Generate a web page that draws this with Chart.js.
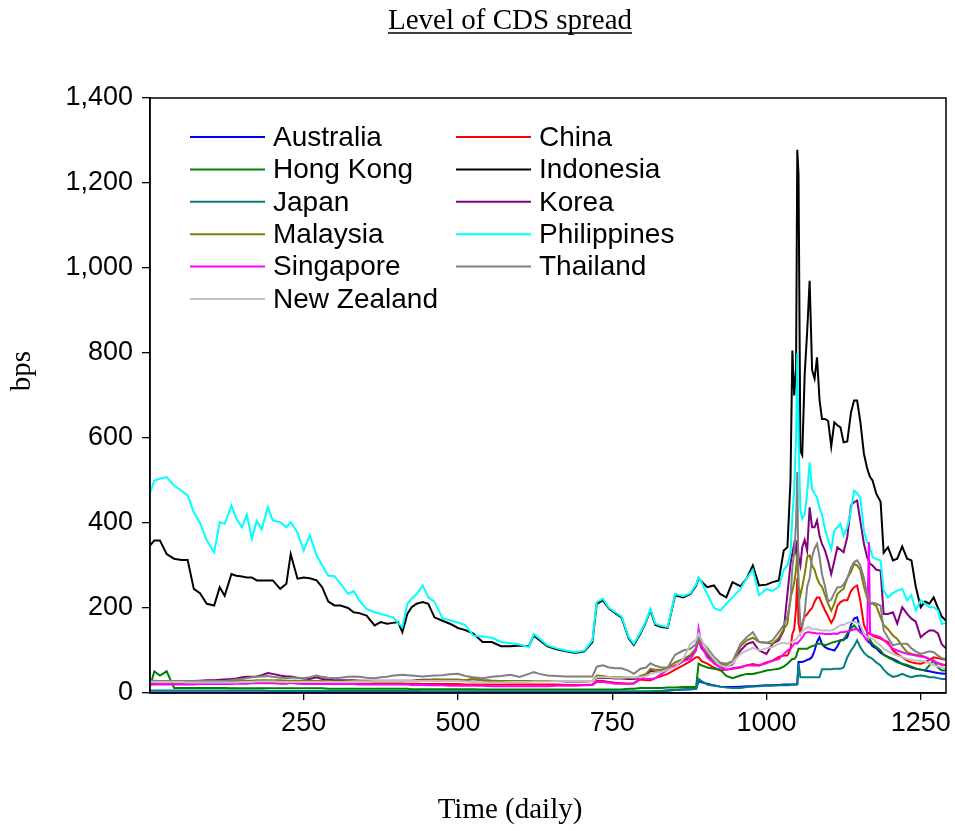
<!DOCTYPE html>
<html>
<head>
<meta charset="utf-8">
<script src="https://cdn.jsdelivr.net/npm/chart.js@4.4.1/dist/chart.umd.min.js"></script>
<style>
  html, body { margin: 0; padding: 0; background: #fff; }
  #wrap { width: 955px; height: 831px; }
</style>
</head>
<body>
<div id="wrap"><canvas id="grafico" width="955" height="831"></canvas></div>
<script>
// observation days (x axis)
const dias = [
  1, 8, 17, 28, 40, 52, 62, 72, 82, 93,
  105, 114, 122, 133, 141, 150, 158, 166, 174, 182,
  192, 200, 212, 222, 229, 240, 250, 260, 271, 280,
  290, 300, 310, 322, 331, 340, 352, 365, 375, 385,
  395, 403, 410, 418, 425, 433, 443, 452, 462, 475,
  487, 500, 512, 525, 540, 555, 570, 585, 600, 615,
  623, 632, 645, 660, 675, 690, 705, 718, 725, 735,
  745, 755, 765, 777, 785, 796, 805, 812, 820, 830,
  840, 852, 865, 877, 886, 890, 895, 904, 915, 925,
  935, 945, 958, 968, 978, 988, 1000, 1010, 1020, 1028,
  1034, 1039, 1042, 1045, 1048, 1050, 1052, 1055, 1058, 1062,
  1066, 1070, 1074, 1078, 1082, 1086, 1090, 1095, 1100, 1105,
  1110, 1115, 1120, 1125, 1131, 1137, 1142, 1147, 1152, 1158,
  1163, 1166, 1168, 1172, 1178, 1185, 1190, 1197, 1205, 1212,
  1220, 1228, 1235, 1242, 1250, 1257, 1264, 1271, 1278, 1284,
  1291
];

const australia = [
  1, 1, 1, 1, 1, 1, 1, 1, 1, 1,
  1, 1, 1, 1, 1, 1, 1, 1, 1, 1,
  1, 1, 1, 1, 1, 1, 1, 1, 1, 1,
  1, 1, 1, 1, 1, 1, 1, 1, 1, 1,
  1, 1, 1, 1, 1, 1, 1, 1, 1, 1,
  1, 1, 1, 1, 1, 1, 1, 1, 1, 1,
  1, 1, 1, 1, 1, 1, 1, 1, 1, 1,
  1, 1, 1, 1, 2, 2, 3, 3, 4, 5,
  6, 7, 8, 9, 10, 28, 25, 22, 18, 15,
  14, 14, 15, 16, 16, 17, 18, 18, 19, 20,
  20, 20, 20, 20, 20, 22, 73, 73, 73, 75,
  78, 80, 85, 100, 120, 131, 115, 108, 104, 102,
  100, 110, 124, 126, 131, 160, 175, 178, 150, 135,
  124, 120, 118, 110, 105, 95, 90, 85, 80, 75,
  68, 64, 60, 57, 55, 53, 51, 49, 47, 46,
  45
];
const china = [
  24, 24, 24, 24, 24, 24, 24, 24, 24, 24,
  24, 24, 24, 24, 24, 24, 24, 24, 24, 24,
  25, 25, 24, 24, 24, 24, 24, 23, 23, 23,
  23, 23, 22, 22, 22, 22, 22, 22, 22, 22,
  22, 22, 22, 22, 22, 22, 21, 21, 21, 21,
  21, 21, 20, 20, 20, 20, 20, 20, 20, 20,
  20, 20, 20, 20, 19, 19, 19, 20, 28, 28,
  26, 24, 23, 22, 23, 32, 30, 30, 35, 40,
  45, 55, 65, 75, 84, 84, 75, 69, 60, 53,
  55, 57, 60, 65, 68, 65, 72, 76, 85, 88,
  88, 104, 139, 150, 200, 270, 163, 143, 163, 180,
  185, 194, 200, 215, 225, 225, 210, 194, 180, 165,
  178, 205, 214, 218, 218, 240, 249, 253, 218, 160,
  143, 140, 139, 135, 131, 128, 124, 120, 100, 92,
  84, 76, 72, 70, 69, 72, 78, 84, 82, 80,
  78
];
const hongKong = [
  15, 51, 41, 51, 12, 12, 12, 12, 12, 12,
  12, 12, 12, 11, 11, 11, 11, 11, 11, 11,
  11, 11, 11, 11, 11, 11, 11, 11, 11, 11,
  10, 10, 10, 10, 10, 10, 10, 10, 10, 10,
  10, 10, 10, 10, 9, 9, 9, 9, 9, 9,
  9, 9, 9, 9, 8, 8, 8, 8, 8, 8,
  8, 8, 8, 8, 8, 8, 8, 8, 8, 8,
  8, 8, 8, 10, 10, 12, 12, 12, 12, 12,
  13, 13, 14, 14, 14, 69, 65, 60, 57, 55,
  40, 35, 41, 45, 45, 48, 53, 55, 57, 62,
  69, 76, 80, 80, 85, 95, 104, 104, 104, 104,
  104, 108, 110, 112, 116, 116, 116, 112, 115, 118,
  120, 122, 124, 124, 140, 152, 159, 150, 143, 138,
  135, 130, 125, 115, 108, 100, 90, 84, 78, 72,
  69, 66, 62, 58, 55, 53, 65, 76, 60, 53,
  53
];
const indonesia = [
  347, 359, 359, 327, 316, 313, 313, 245, 235, 210,
  206, 249, 229, 280, 276, 274, 272, 272, 265, 265,
  265, 265, 245, 257, 327, 269, 272, 270, 265, 249,
  215, 206, 206, 200, 190, 188, 182, 159, 167, 163,
  165, 167, 143, 186, 202, 210, 214, 210, 178, 170,
  163, 153, 148, 140, 120, 120, 110, 110, 112, 110,
  135, 125, 110, 103, 98, 94, 98, 120, 210, 218,
  198, 188, 178, 128, 113, 140, 168, 195, 160, 155,
  153, 230, 225, 233, 252, 270, 262, 249, 253, 233,
  225, 261, 251, 270, 300, 253, 255, 261, 265, 335,
  343, 500, 806, 700, 760, 1278, 1220, 570, 560, 750,
  850, 970, 760, 740, 790, 690, 645, 645, 640, 580,
  637, 630, 625, 590, 592, 660, 688, 688, 640, 563,
  530, 516, 508, 500, 469, 450, 330, 343, 312, 316,
  345, 316, 312, 250, 202, 215, 210, 225, 200, 180,
  170
];
const japan = [
  6, 6, 6, 6, 6, 6, 6, 6, 6, 6,
  6, 6, 6, 6, 6, 6, 6, 6, 6, 6,
  5, 5, 5, 5, 5, 5, 5, 5, 5, 5,
  5, 5, 5, 5, 5, 5, 5, 5, 5, 5,
  5, 5, 5, 5, 5, 5, 4, 4, 4, 4,
  4, 4, 4, 4, 4, 4, 4, 4, 4, 4,
  4, 4, 4, 4, 4, 4, 4, 4, 4, 4,
  4, 4, 4, 4, 4, 4, 4, 4, 5, 5,
  6, 7, 8, 9, 10, 33, 28, 20, 17, 15,
  13, 12, 12, 14, 15, 16, 17, 17, 18, 18,
  18, 19, 20, 20, 20, 20, 69, 37, 37, 37,
  37, 37, 37, 37, 37, 37, 56, 56, 56, 56,
  57, 57, 57, 60, 84, 100, 110, 124, 108, 95,
  88, 84, 84, 80, 72, 65, 55, 45, 38, 40,
  45, 40, 37, 40, 41, 40, 37, 37, 35, 33,
  33
];
const korea = [
  25, 25, 26, 27, 27, 28, 28, 28, 29, 30,
  30, 31, 32, 33, 34, 37, 38, 38, 39, 42,
  47, 45, 41, 39, 39, 36, 34, 33, 37, 33,
  31, 30, 30, 30, 30, 29, 29, 29, 29, 29,
  29, 29, 29, 29, 29, 30, 31, 31, 32, 31,
  31, 31, 30, 33, 30, 29, 28, 28, 28, 28,
  28, 28, 28, 28, 27, 27, 27, 28, 35, 36,
  35, 34, 34, 33, 33, 35, 42, 52, 50, 52,
  55, 62, 75, 88, 105, 124, 105, 90, 70, 61,
  62, 68, 100, 115, 120, 100, 92, 116, 124, 147,
  233, 304, 329, 351, 330, 360, 320, 300, 343, 360,
  335, 437, 390, 390, 406, 370, 351, 335, 310, 280,
  310, 343, 337, 331, 367, 441, 449, 453, 406, 351,
  320, 310, 304, 300, 290, 288, 186, 186, 190, 163,
  202, 186, 175, 168, 131, 140, 147, 147, 140, 115,
  105
];
const malaysia = [
  27, 26, 26, 27, 27, 27, 27, 27, 27, 27,
  27, 27, 28, 28, 29, 29, 29, 29, 30, 30,
  30, 30, 30, 29, 29, 29, 29, 28, 28, 28,
  28, 27, 27, 28, 29, 29, 28, 27, 27, 27,
  27, 27, 27, 28, 28, 29, 30, 30, 31, 31,
  31, 31, 30, 33, 30, 28, 28, 28, 28, 28,
  28, 28, 28, 28, 28, 28, 28, 28, 41, 40,
  37, 37, 37, 36, 35, 40, 45, 57, 55, 55,
  60, 72, 80, 90, 105, 124, 110, 95, 75, 69,
  65, 70, 110, 124, 130, 120, 118, 116, 130, 150,
  163, 225, 240, 260, 290, 330, 250, 230, 250, 280,
  320, 324, 300, 290, 270, 257, 250, 230, 210, 194,
  210, 233, 240, 245, 270, 285, 304, 300, 290, 250,
  225, 216, 210, 210, 205, 178, 160, 150, 135, 127,
  110, 96, 92, 90, 88, 85, 80, 76, 70, 68,
  65
];
const philippines = [
  470, 500, 504, 508, 488, 476, 465, 425, 400, 359,
  331, 402, 398, 441, 410, 390, 420, 363, 405, 385,
  437, 406, 402, 390, 402, 378, 335, 371, 324, 300,
  276, 275, 257, 233, 240, 218, 198, 190, 186, 182,
  178, 165, 155, 210, 222, 233, 253, 225, 215, 176,
  171, 166, 160, 135, 133, 130, 120, 117, 114, 108,
  139, 128, 112, 105, 100, 96, 100, 124, 214, 222,
  200, 190, 180, 131, 116, 143, 170, 198, 163, 158,
  155, 233, 228, 235, 255, 272, 260, 233, 200, 194,
  210, 225, 245, 270, 290, 230, 245, 240, 250, 290,
  300, 330, 414, 480, 600, 800, 600, 430, 410, 420,
  470, 543, 480, 469, 460, 435, 420, 385, 360, 339,
  382, 390, 398, 370, 390, 430, 476, 470, 460, 382,
  355, 351, 340, 320, 315, 312, 241, 225, 235, 241,
  245, 218, 230, 194, 218, 210, 202, 202, 194, 163,
  165
];
const singapore = [
  20, 20, 20, 20, 20, 20, 20, 20, 21, 21,
  21, 21, 21, 21, 22, 22, 22, 23, 23, 23,
  23, 23, 22, 22, 24, 22, 21, 21, 21, 21,
  21, 21, 21, 21, 21, 20, 20, 20, 20, 20,
  20, 20, 20, 20, 19, 19, 19, 18, 18, 18,
  17, 17, 17, 17, 17, 16, 16, 16, 16, 16,
  16, 16, 16, 17, 17, 17, 18, 19, 26, 26,
  24, 22, 22, 22, 22, 35, 33, 33, 35, 45,
  55, 65, 75, 80, 100, 151, 110, 84, 70, 60,
  55, 58, 61, 65, 65, 65, 70, 76, 80, 92,
  100, 104, 110, 116, 118, 116, 120, 125, 130, 140,
  143, 143, 142, 141, 140, 140, 140, 139, 139, 139,
  140, 139, 143, 143, 145, 147, 150, 150, 143, 135,
  124, 355, 139, 137, 135, 131, 125, 115, 104, 100,
  96, 92, 90, 88, 86, 84, 80, 75, 70, 66,
  65
];
const thailand = [
  29, 29, 28, 28, 28, 28, 28, 28, 28, 28,
  28, 28, 28, 30, 32, 33, 35, 37, 38, 39,
  40, 38, 36, 35, 36, 36, 35, 37, 41, 38,
  36, 35, 36, 38, 39, 38, 36, 35, 37, 38,
  41, 42, 43, 42, 41, 40, 39, 40, 41, 42,
  44, 45, 40, 37, 35, 38, 40, 43, 38, 45,
  49, 45, 41, 40, 39, 39, 39, 39, 62, 65,
  60, 58, 58, 52, 45, 57, 60, 70, 64, 60,
  60, 90, 100, 104, 115, 135, 120, 106, 85, 72,
  69, 75, 116, 131, 143, 120, 118, 124, 143, 160,
  180, 218, 296, 330, 400, 520, 250, 160, 155, 190,
  250, 270, 320, 340, 351, 320, 280, 250, 215, 220,
  235, 249, 249, 255, 270, 295, 308, 312, 300, 270,
  233, 220, 210, 212, 210, 206, 147, 130, 112, 115,
  116, 116, 105, 98, 92, 95, 98, 96, 88, 82,
  80
];
const novaZelandia = [
  26, 26, 26, 26, 26, 26, 25, 25, 25, 25,
  25, 25, 25, 25, 25, 26, 26, 26, 27, 27,
  27, 27, 26, 26, 26, 26, 26, 26, 26, 26,
  26, 26, 26, 26, 27, 27, 27, 28, 28, 28,
  28, 28, 28, 28, 28, 28, 28, 28, 28, 28,
  28, 28, 27, 26, 25, 25, 25, 26, 26, 26,
  27, 27, 27, 28, 28, 28, 28, 28, 37, 37,
  37, 36, 36, 37, 37, 37, 40, 45, 48, 50,
  55, 61, 80, 116, 125, 140, 125, 100, 80, 65,
  61, 70, 92, 100, 106, 100, 105, 108, 116, 118,
  116, 118, 120, 124, 126, 130, 135, 140, 145, 150,
  155, 155, 150, 150, 150, 148, 147, 147, 147, 147,
  150, 155, 160, 160, 165, 167, 167, 165, 160, 140,
  131, 131, 130, 128, 120, 112, 104, 98, 92, 88,
  84, 80, 78, 76, 76, 74, 70, 66, 62, 60,
  58
];

const nomes = ['Australia', 'China', 'Hong Kong', 'Indonesia', 'Japan', 'Korea',
  'Malaysia', 'Philippines', 'Singapore', 'Thailand', 'New Zealand'];
const series = [australia, china, hongKong, indonesia, japan, korea,
  malaysia, philippines, singapore, thailand, novaZelandia];
const cores = ['#0000FF', '#FF0000', '#008000', '#000000', '#008080', '#800080',
  '#808000', '#00FFFF', '#FF00FF', '#808080', '#C0C0C0'];
const ticksX = [250, 500, 750, 1000, 1250];

const fonteSans = '"Liberation Sans", Arial, sans-serif';
const fonteSerif = '"Liberation Serif", "Times New Roman", serif';

// legend inside the plot + frame + titles
const extras = {
  id: 'extras',
  afterDraw(chart) {
    const c = chart.ctx;
    const a = chart.chartArea;
    c.save();
    c.strokeStyle = '#000';
    c.lineWidth = 1.5;
    c.strokeRect(a.left, a.top, a.right - a.left, a.bottom - a.top);

    // legenda (two columns)
    c.font = '28px ' + fonteSans;
    c.textBaseline = 'middle';
    c.fillStyle = '#000';
    nomes.forEach((nome, i) => {
      const col = i % 2;
      const lin = Math.floor(i / 2);
      const x0 = col === 0 ? 190 : 456;
      const y = 137 + lin * 32.4;
      c.strokeStyle = cores[i];
      c.lineWidth = 2;
      c.beginPath();
      c.moveTo(x0, y);
      c.lineTo(x0 + 75, y);
      c.stroke();
      c.fillText(nome, x0 + 83, y + 1);
    });

    // title with underline
    c.font = '29px ' + fonteSerif;
    c.textAlign = 'center';
    c.textBaseline = 'alphabetic';
    const titulo = 'Level of CDS spread';
    c.fillText(titulo, 510, 29);
    const w = c.measureText(titulo).width;
    c.strokeStyle = '#000';
    c.lineWidth = 1.3;
    c.beginPath();
    c.moveTo(510 - w / 2, 33);
    c.lineTo(510 + w / 2, 33);
    c.stroke();

    c.textBaseline = 'middle';
    c.fillText('Time (daily)', 510, 810);

    c.translate(22, 371);
    c.rotate(-Math.PI / 2);
    c.fillText('bps', 0, 0);
    c.restore();
  }
};

const ctx = document.getElementById('grafico').getContext('2d');

const grafico = new Chart(ctx, {
  type: 'line',
  data: {
    datasets: series.map((vals, i) => ({
      label: nomes[i],
      data: dias.map((d, k) => ({ x: d, y: vals[k] })),
      borderColor: cores[i],
      backgroundColor: cores[i],
      borderWidth: 2,
      pointRadius: 0,
      tension: 0,
      order: series.length - i
    }))
  },
  options: {
    responsive: false,
    animation: false,
    layout: { padding: { top: 98, right: 9, left: 0, bottom: 0 } },
    plugins: {
      legend: { display: false },
      tooltip: { enabled: false },
      title: { display: false }
    },
    scales: {
      x: {
        type: 'linear',
        min: 1,
        max: 1291,
        afterBuildTicks: (s) => { s.ticks = ticksX.map(v => ({ value: v })); },
        afterFit: (s) => { s.height = 138; s.paddingLeft = 0; s.paddingRight = 0; },
        ticks: {
          color: '#000',
          font: { family: fonteSans, size: 27 },
          padding: 7,
          maxRotation: 0,
          callback: (v) => String(v)
        },
        grid: { drawOnChartArea: false, drawTicks: true, tickLength: 7, color: '#000', lineWidth: 1.3 },
        border: { color: '#000', width: 1.5 }
      },
      y: {
        min: 0,
        max: 1400,
        afterFit: (s) => { s.width = 150; s.paddingTop = 0; s.paddingBottom = 0; },
        ticks: {
          stepSize: 200,
          color: '#000',
          font: { family: fonteSans, size: 27 },
          padding: 9,
          callback: (v) => v.toLocaleString('en-US')
        },
        grid: { drawOnChartArea: false, drawTicks: true, tickLength: 8, color: '#000', lineWidth: 1.3 },
        border: { color: '#000', width: 1.5 }
      }
    }
  },
  plugins: [extras]
});
</script>
</body>
</html>
